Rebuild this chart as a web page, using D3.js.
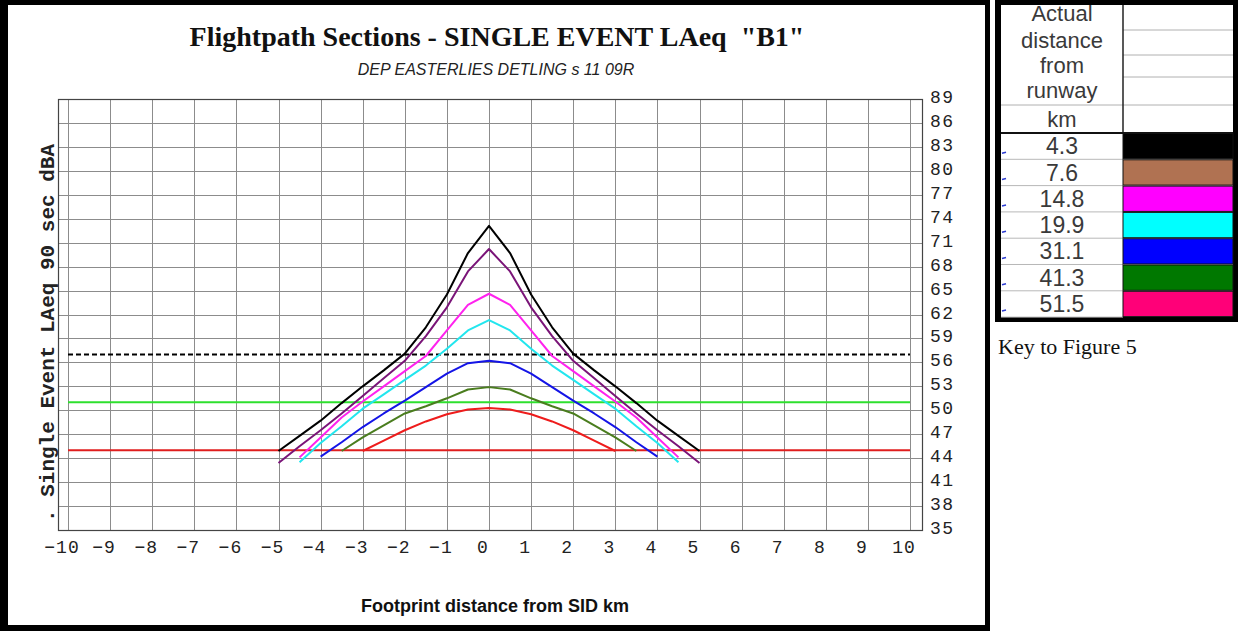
<!DOCTYPE html>
<html>
<head>
<meta charset="utf-8">
<script src="https://cdn.jsdelivr.net/npm/d3@7"></script>
<style>
  body { margin: 0; background: #fff; }
  svg { display: block; }
</style>
</head>
<body>
<svg id="chart" width="1238" height="631"></svg>
<script>
// Lateral offset from the SID track, km
const offsetsKm = [-5, -4.5, -4, -3.5, -3, -2.5, -2, -1.5, -1, -0.5, 0,
                   0.5, 1, 1.5, 2, 2.5, 3, 3.5, 4, 4.5, 5];

// Single-event LAeq (dBA) along each section; null = outside the footprint
const section43  = [44.9, 46.8, 48.7, 50.9, 53.0, 55.0, 57.1, 60.4, 64.5, 69.7, 73.1,
                    69.7, 64.5, 60.4, 57.1, 55.0, 53.0, 50.9, 48.7, 46.8, 44.9];
const section76  = [43.4, 45.5, 47.5, 49.6, 51.8, 54.0, 56.2, 59.3, 62.9, 67.4, 70.2,
                    67.4, 62.9, 59.3, 56.2, 54.0, 51.8, 49.6, 47.5, 45.5, 43.4];
const section148 = [null, 44.1, 46.6, 49.1, 51.1, 53.0, 54.9, 56.8, 60.0, 63.2, 64.6,
                    63.2, 60.0, 56.8, 54.9, 53.0, 51.1, 49.1, 46.6, 44.1, null];
const section199 = [null, 43.5, 45.9, 48.0, 50.2, 52.0, 53.8, 55.6, 57.7, 60.0, 61.3,
                    60.0, 57.7, 55.6, 53.8, 52.0, 50.2, 48.0, 45.9, 43.5, null];
const section311 = [null, null, 44.2, 46.0, 47.9, 49.6, 51.2, 52.9, 54.6, 55.9, 56.2,
                    55.9, 54.6, 52.9, 51.2, 49.6, 47.9, 46.0, 44.2, null, null];
const section413 = [null, null, null, 44.9, 46.6, 48.1, 49.6, 50.5, 51.5, 52.6, 52.9,
                    52.6, 51.5, 50.5, 49.6, 48.1, 46.6, 44.9, null, null, null];
const section515 = [null, null, null, null, 44.9, 46.2, 47.5, 48.6, 49.5, 50.1, 50.3,
                    50.1, 49.5, 48.6, 47.5, 46.2, 44.9, null, null, null, null];

const curveColors = ["#000000", "#7a1478", "#ff22ee", "#22e6ee", "#1414e6", "#4a7d1e", "#ee1c1c"];

// Reference levels: dashed black, green, red
const referenceLevels = [57, 51, 45];
const referenceColors = ["#000000", "#2ee02e", "#e01e1e"];

// Axis tick labels
const xTickValues = [-10, -9, -8, -7, -6, -5, -4, -3, -2, -1, 0, 1, 2, 3, 4, 5, 6, 7, 8, 9, 10];
const yTickValues = [89, 86, 83, 80, 77, 74, 71, 68, 65, 62, 59, 56, 53, 50, 47, 44, 41, 38, 35];

// Key table
const keyHeader = ["Actual", "distance", "from", "runway", "km"];
const keyDistances = ["4.3", "7.6", "14.8", "19.9", "31.1", "41.3", "51.5"];
const keyColors = ["#000000", "#b07252", "#ff00ff", "#00ffff", "#0000ff", "#007800", "#ff0078"];

const svg = d3.select("#chart");

// ---------- chart panel ----------
const x = d3.scaleLinear().domain([-10, 10]).range([68, 910]);
const y = d3.scaleLinear().domain([35, 89]).range([530, 99]);
const frame = { left: 58, right: 922, top: 99, bottom: 530 };

// outer heavy border of the chart panel
svg.append("rect").attr("x", 0).attr("y", 0).attr("width", 990).attr("height", 631).attr("fill", "#000");
svg.append("rect").attr("x", 8).attr("y", 5).attr("width", 977).attr("height", 620).attr("fill", "#fff");

// titles
svg.append("text")
  .attr("x", 497).attr("y", 46)
  .attr("text-anchor", "middle")
  .attr("font-family", "Liberation Serif, Times New Roman, serif")
  .attr("font-weight", "bold").attr("font-size", 28)
  .attr("fill", "#111")
  .style("white-space", "pre")
  .text("Flightpath Sections - SINGLE EVENT LAeq  \"B1\"");

svg.append("text")
  .attr("x", 496).attr("y", 75)
  .attr("text-anchor", "middle")
  .attr("font-family", "Liberation Sans, Arial, sans-serif")
  .attr("font-style", "italic").attr("font-size", 16)
  .attr("fill", "#222")
  .text("DEP EASTERLIES DETLING s 11 09R");

// grid
const grid = svg.append("g").attr("stroke", "#8c8c8c").attr("stroke-width", 1).attr("shape-rendering", "crispEdges");
grid.selectAll("line.v").data(xTickValues).join("line")
  .attr("x1", d => Math.round(x(d)) + 0.5).attr("x2", d => Math.round(x(d)) + 0.5)
  .attr("y1", frame.top).attr("y2", frame.bottom);
grid.selectAll("line.h").data(yTickValues).join("line")
  .attr("x1", frame.left).attr("x2", frame.right)
  .attr("y1", d => Math.round(y(d)) + 0.5).attr("y2", d => Math.round(y(d)) + 0.5);

svg.append("rect")
  .attr("x", frame.left + 0.5).attr("y", frame.top + 0.5)
  .attr("width", frame.right - frame.left).attr("height", frame.bottom - frame.top)
  .attr("fill", "none").attr("stroke", "#444").attr("stroke-width", 1.2);

// reference levels
svg.append("g").selectAll("line").data(referenceLevels).join("line")
  .attr("x1", x(-10)).attr("x2", x(10))
  .attr("y1", d => y(d)).attr("y2", d => y(d))
  .attr("stroke", (d, i) => referenceColors[i])
  .attr("stroke-width", 2)
  .attr("stroke-dasharray", (d, i) => i === 0 ? "5,3" : null);

// section curves
const sections = [section43, section76, section148, section199, section311, section413, section515];
const line = d3.line()
  .defined(d => d[1] != null)
  .x(d => x(d[0])).y(d => y(d[1]));

svg.append("g").selectAll("path").data(sections).join("path")
  .attr("d", s => line(offsetsKm.map((k, i) => [k, s[i]])))
  .attr("fill", "none")
  .attr("stroke", (d, i) => curveColors[i])
  .attr("stroke-width", 2)
  .attr("stroke-linejoin", "round");

// x tick labels
svg.append("g").selectAll("text").data(xTickValues).join("text")
  .attr("x", d => x(d) - 6).attr("y", 553)
  .attr("text-anchor", "middle")
  .attr("font-family", "Liberation Mono, Courier New, monospace")
  .attr("font-size", 18).attr("letter-spacing", 1).attr("fill", "#222")
  .text(d => d < 0 ? "\u2212" + Math.abs(d) : String(d));

// y tick labels (right side)
svg.append("g").selectAll("text").data(yTickValues).join("text")
  .attr("x", 930).attr("y", d => y(d) + 4)
  .attr("font-family", "Liberation Mono, Courier New, monospace")
  .attr("font-size", 18).attr("letter-spacing", 1.5).attr("fill", "#222")
  .text(d => d);

// axis titles
svg.append("text")
  .attr("transform", "translate(54,333) rotate(-90)")
  .attr("text-anchor", "middle")
  .attr("font-family", "Liberation Mono, Courier New, monospace")
  .attr("font-weight", "bold").attr("font-size", 21)
  .attr("fill", "#222")
  .text(". Single Event LAeq 90 sec dBA");

svg.append("text")
  .attr("x", 495).attr("y", 612)
  .attr("text-anchor", "middle")
  .attr("font-family", "Liberation Sans, Arial, sans-serif")
  .attr("font-weight", "bold").attr("font-size", 18)
  .attr("fill", "#111")
  .text("Footprint distance from SID km");

// ---------- key table ----------
const key = svg.append("g");
const tbl = { left: 995, right: 1238, top: 0, bottom: 322, split: 1123 };
const headerLines = [30, 55, 77, 105];
const rowTop = 133, rowH = 26.3;

key.append("rect").attr("x", tbl.left).attr("y", tbl.top)
  .attr("width", tbl.right - tbl.left).attr("height", tbl.bottom - tbl.top).attr("fill", "#000");
key.append("rect").attr("x", tbl.left + 6).attr("y", tbl.top + 5)
  .attr("width", tbl.right - tbl.left - 11).attr("height", tbl.bottom - tbl.top - 10).attr("fill", "#fff");

// header grid lines in the colour column
key.selectAll("line.hh").data(headerLines).join("line")
  .attr("x1", tbl.split).attr("x2", tbl.right - 5)
  .attr("y1", d => d).attr("y2", d => d)
  .attr("stroke", "#b0b0b0").attr("stroke-width", 1);
key.append("line")
  .attr("x1", tbl.left + 6).attr("x2", tbl.split)
  .attr("y1", 105).attr("y2", 105)
  .attr("stroke", "#b0b0b0").attr("stroke-width", 1);
key.append("line")
  .attr("x1", tbl.split).attr("x2", tbl.split)
  .attr("y1", 5).attr("y2", rowTop)
  .attr("stroke", "#222").attr("stroke-width", 1.5);

key.selectAll("text.hdr").data(keyHeader).join("text")
  .attr("x", 1062).attr("y", (d, i) => [21, 48, 73, 98, 127][i])
  .attr("text-anchor", "middle")
  .attr("font-family", "Liberation Sans, Arial, sans-serif")
  .attr("font-size", 22).attr("fill", "#3a3a3a")
  .text(d => d);

key.append("line")
  .attr("x1", tbl.left + 6).attr("x2", tbl.right - 5)
  .attr("y1", rowTop).attr("y2", rowTop)
  .attr("stroke", "#111").attr("stroke-width", 2);

// data rows
const rows = key.selectAll("g.row").data(keyDistances).join("g")
  .attr("transform", (d, i) => `translate(0,${rowTop + i * rowH})`);
rows.append("line")
  .attr("x1", tbl.left + 6).attr("x2", tbl.split)
  .attr("y1", rowH).attr("y2", rowH)
  .attr("stroke", "#b8b8b8").attr("stroke-width", 1);
rows.append("rect")
  .attr("x", tbl.split).attr("y", 0.5)
  .attr("width", tbl.right - 5 - tbl.split).attr("height", rowH - 1)
  .attr("fill", (d, i) => keyColors[i])
  .attr("stroke", "#111").attr("stroke-width", 1);
rows.append("text")
  .attr("x", 1062).attr("y", rowH - 5)
  .attr("text-anchor", "middle")
  .attr("font-family", "Liberation Sans, Arial, sans-serif")
  .attr("font-size", 23).attr("fill", "#3a3a3a")
  .text(d => d);
rows.append("line")
  .attr("x1", 1002).attr("x2", 1006)
  .attr("y1", rowH - 6).attr("y2", rowH - 7)
  .attr("stroke", "#2a3ad0").attr("stroke-width", 1.5);

svg.append("text")
  .attr("x", 998).attr("y", 354)
  .attr("font-family", "Liberation Serif, Times New Roman, serif")
  .attr("font-size", 22).attr("fill", "#111")
  .text("Key to Figure 5");
</script>
</body>
</html>
